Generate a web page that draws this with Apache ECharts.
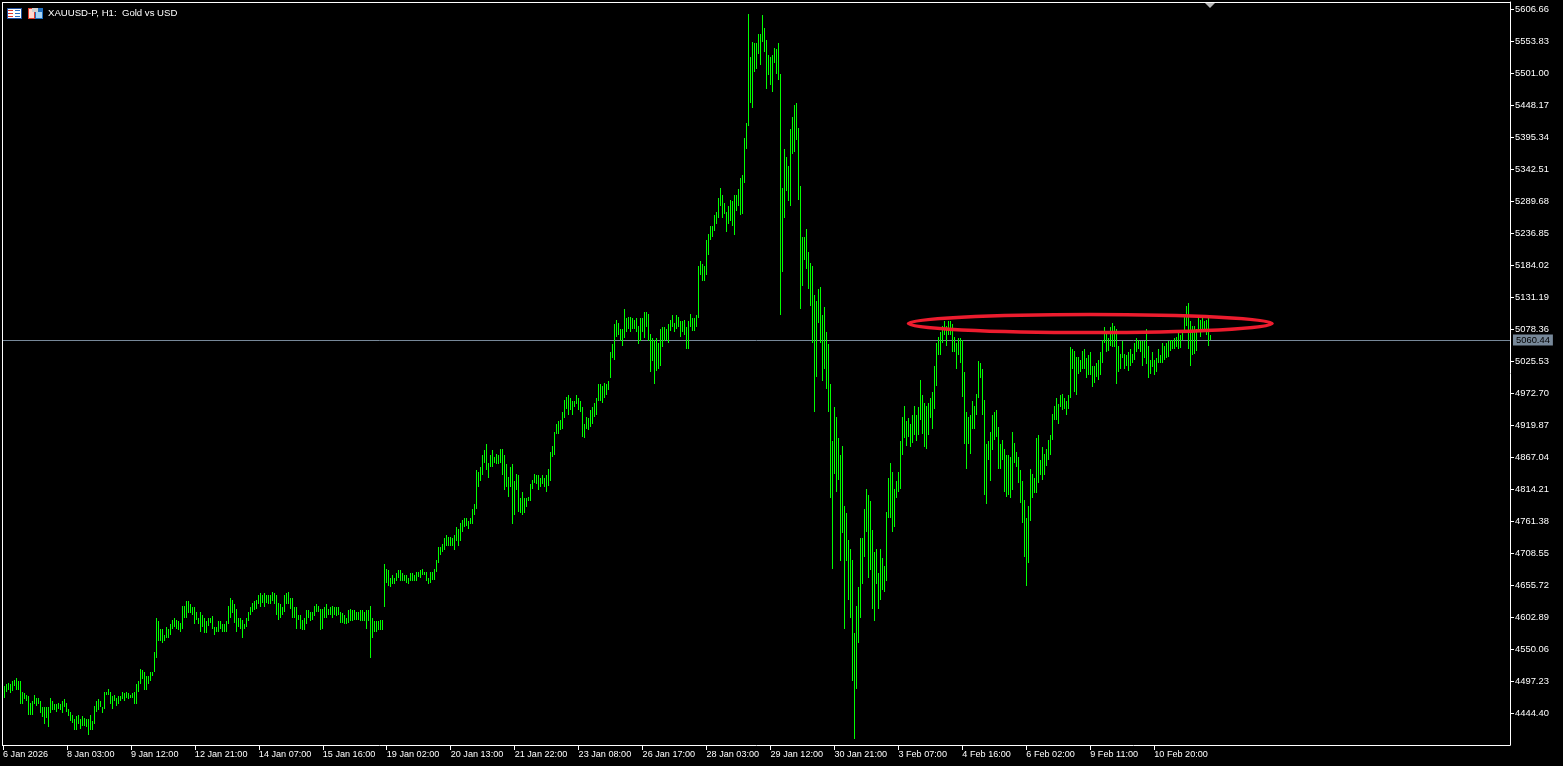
<!DOCTYPE html>
<html><head><meta charset="utf-8">
<style>html,body{margin:0;padding:0;background:#000;overflow:hidden}#c{width:1563px;height:766px}</style>
<script src="https://cdn.jsdelivr.net/npm/echarts@6/dist/echarts.min.js"></script>
</head><body><div id="c"></div>
<script>
const titleText = 'XAUUSD-P, H1:  Gold vs USD';
const tickLabels = ['6 Jan 2026','8 Jan 03:00','9 Jan 12:00','12 Jan 21:00','14 Jan 07:00','15 Jan 16:00','19 Jan 02:00','20 Jan 13:00','21 Jan 22:00','23 Jan 08:00','26 Jan 17:00','28 Jan 03:00','29 Jan 12:00','30 Jan 21:00','3 Feb 07:00','4 Feb 16:00','6 Feb 02:00','9 Feb 11:00','10 Feb 20:00'];
const priceTicks = [5606.66,5553.83,5501.00,5448.17,5395.34,5342.51,5289.68,5236.85,5184.02,5131.19,5078.36,5025.53,4972.70,4919.87,4867.04,4814.21,4761.38,4708.55,4655.72,4602.89,4550.06,4497.23,4444.40];
const lastPrice = 5060.44;
const ellipseBars = [453.25,635];
const ellipsePrices = [5102.4,5072.7];
const highs = [
4490,4493,4494,4492,4498,4499,4502,4497,4497,4480,4478,4475,4472,4462,4465,4475,4470,4469,4465,4454,
4454,4454,4454,4470,4465,4460,4459,4462,4459,4465,4467,4462,4451,4447,4442,4434,4439,4441,4434,4439,
4436,4434,4434,4441,4432,4457,4465,4467,4465,4454,4479,4480,4485,4479,4472,4475,4470,4472,4472,4479,
4477,4479,4477,4475,4477,4480,4493,4497,4518,4515,4513,4505,4505,4512,4512,4546,4602,4596,4583,4583,
4573,4586,4584,4591,4599,4601,4599,4596,4594,4622,4622,4629,4630,4624,4619,4620,4612,4602,4611,4607,
4601,4597,4601,4602,4604,4587,4587,4597,4597,4591,4592,4596,4622,4635,4632,4624,4617,4602,4601,4599,
4592,4601,4612,4619,4627,4630,4632,4640,4642,4640,4642,4640,4639,4640,4644,4642,4640,4627,4625,4620,
4639,4642,4644,4634,4634,4619,4619,4606,4606,4599,4602,4614,4614,4612,4612,4622,4624,4622,4617,4617,
4619,4625,4617,4619,4622,4620,4619,4620,4611,4609,4607,4601,4615,4617,4614,4614,4612,4612,4614,4615,
4611,4614,4615,4622,4601,4596,4597,4597,4599,4599,
4691,4683,4680,4667,4672,4667,4675,4680,4680,4675,4673,4672,4668,4675,4675,4672,4677,4677,4680,4682,
4678,4678,4668,4677,4677,4683,4698,4718,4718,4724,4733,4739,4736,4736,4734,4739,4752,4749,4759,4764,
4767,4767,4762,4766,4782,4789,4845,4843,4851,4871,4879,4889,4858,4871,4878,4868,4873,4871,4881,4881,
4870,4856,4835,4851,4855,4828,4840,4837,4800,4810,4799,4799,4802,4823,4830,4840,4837,4838,4833,4837,
4833,4837,4848,4875,4886,4908,4921,4926,4929,4942,4962,4967,4969,4964,4960,4959,4969,4964,4960,4949,
4922,4934,4931,4944,4949,4957,4964,4988,4988,4985,4990,4987,4992,5041,5053,5086,5094,5089,5079,5078,
5112,5097,5099,5099,5096,5094,5097,5084,5097,5097,5106,5106,5104,5071,5063,5061,5063,5055,5078,5081,
5081,5079,5086,5094,5102,5089,5101,5099,5092,5091,5094,5082,5092,5104,5096,5096,5101,
5183,5191,5185,5182,5226,5236,5248,5249,5267,5272,5294,5312,5299,5287,5272,5281,5291,5289,5299,5300,
5309,5327,5333,5393,5419,5599,5528,5553,5551,5550,5565,5565,5596,5576,5556,5530,5527,5530,5543,5541,
5550,5499,5312,5376,5363,5347,5408,5428,5449,5452,5411,5314,5231,5231,5243,5206,5187,
5182,5134,5124,5145,5147,5101,5114,5074,5053,4987,4894,4949,4934,4898,4870,4886,4786,4774,4731,4715,
4698,4576,4621,4652,4733,4734,4781,4814,4805,4795,4746,4710,4715,4675,4715,4701,4688,4777,4832,4857,
4843,4815,4827,4843,4894,4934,4951,4927,4931,4921,4937,4952,4937,4949,4995,4970,4956,4951,4957,4965,
4974,5017,5055,5066,5074,5083,5091,5084,5092,5092,5087,5066,5055,5064,
5064,5060,5008,4941,4933,4936,4959,4952,4972,5025,5022,5013,4962,4889,4893,4908,4936,4942,4944,4916,
4888,4896,4880,4870,4871,4867,4908,4891,4876,4867,4845,4827,4796,4766,4786,4848,4840,4833,4899,4904,
4863,4883,4873,4881,4896,4904,4939,4951,4965,4954,4970,4972,4964,4960,4970,5048,5046,5043,5033,5033,
5027,5043,5046,5031,5036,5041,5017,5018,5023,5027,5041,5060,5081,5076,5064,5081,5088,5084,5078,5050,
5038,5058,5038,5035,5041,5046,5038,5056,5064,5061,5058,5058,5059,5079,5050,5028,5041,5028,5031,5046,
5035,5056,5051,5055,5059,5061,5061,5064,5066,5073,5069,5073,5102,5117,5121,5091,5084,5083,5079,5099,
5094,5096,5091,5094,5097,5068
];
const lows = [
4470,4480,4483,4477,4481,4490,4483,4482,4460,4459,4467,4464,4442,4441,4441,4459,4457,4459,4445,4438,
4427,4436,4422,4444,4449,4449,4446,4451,4449,4444,4455,4446,4439,4432,4429,4416,4416,4427,4419,4424,
4424,4422,4408,4417,4416,4427,4446,4449,4454,4444,4451,4474,4475,4460,4452,4464,4457,4460,4464,4467,
4465,4469,4467,4469,4469,4460,4459,4479,4492,4500,4482,4482,4492,4497,4505,4512,4536,4563,4564,4561,
4563,4568,4569,4574,4583,4586,4584,4581,4578,4584,4601,4601,4609,4609,4607,4591,4599,4591,4578,4586,
4576,4576,4589,4594,4583,4573,4578,4579,4583,4578,4579,4579,4592,4602,4609,4594,4579,4586,4583,4569,
4583,4587,4596,4606,4612,4614,4617,4625,4620,4627,4619,4627,4625,4625,4629,4625,4606,4599,4602,4606,
4612,4624,4625,4617,4601,4602,4583,4599,4584,4581,4581,4592,4601,4597,4599,4604,4612,4611,4581,4583,
4601,4602,4607,4607,4601,4606,4604,4606,4594,4594,4591,4592,4594,4596,4596,4599,4599,4599,4597,4597,
4596,4583,4597,4536,4568,4578,4579,4581,4581,4581,
4619,4660,4655,4652,4658,4658,4663,4667,4662,4662,4662,4660,4658,4662,4663,4662,4663,4669,4668,4673,
4672,4663,4658,4660,4665,4665,4678,4693,4705,4711,4714,4721,4721,4721,4721,4714,4728,4721,4728,4743,
4752,4754,4748,4756,4757,4771,4782,4817,4827,4837,4858,4845,4832,4851,4851,4858,4855,4855,4858,4838,
4812,4818,4802,4818,4756,4772,4812,4777,4775,4772,4774,4784,4794,4794,4815,4825,4822,4813,4818,4823,
4818,4810,4820,4827,4868,4870,4906,4906,4911,4914,4931,4947,4936,4945,4937,4949,4954,4945,4942,4901,
4899,4914,4911,4917,4922,4934,4937,4960,4959,4957,4965,4970,4977,4998,5030,5028,5066,5069,5058,5051,
5064,5073,5079,5074,5078,5078,5074,5054,5058,5073,5064,5081,5058,5008,5025,4988,5010,5013,5018,5049,
5059,5061,5056,5076,5081,5073,5078,5082,5066,5073,5069,5046,5046,5082,5076,5076,5081,
5097,5168,5158,5157,5168,5201,5225,5231,5241,5251,5262,5281,5262,5269,5238,5251,5256,5248,5234,5274,
5282,5267,5269,5320,5376,5414,5452,5444,5503,5507,5533,5515,5553,5536,5474,5497,5482,5470,5518,5500,
5490,5101,5172,5262,5307,5289,5282,5368,5371,5390,5291,5112,5150,5193,5178,5145,5117,
5056,4941,5000,5089,5055,4992,5013,4980,4942,4800,4682,4840,4809,4830,4695,4741,4584,4696,4631,4602,
4497,4401,4484,4560,4602,4657,4703,4743,4668,4680,4617,4596,4657,4617,4631,4647,4644,4663,4766,4766,
4744,4751,4800,4809,4815,4871,4898,4885,4901,4883,4891,4903,4893,4903,4929,4906,4883,4880,4903,4932,
4913,4946,4984,5035,5035,5055,5068,5051,5068,5068,5041,5041,5013,5035,
5023,4967,4888,4848,4888,4873,4914,4914,4937,4964,4997,4936,4804,4789,4863,4827,4878,4896,4901,4848,
4847,4863,4810,4802,4805,4800,4812,4858,4850,4824,4792,4759,4703,4655,4693,4761,4800,4807,4807,4825,
4838,4829,4838,4852,4863,4871,4895,4928,4928,4921,4949,4944,4947,4936,4946,4964,5012,4975,4969,5005,
5007,5013,5013,4997,5002,5002,4982,4989,5000,4995,5002,5023,5056,5040,5043,5050,5048,5048,4987,5008,
5012,5031,5013,5017,5010,5018,5023,5028,5040,5045,5041,5018,5031,5020,4998,5005,5015,5003,5008,5022,
5023,5023,5028,5030,5033,5043,5045,5046,5048,5045,5047,5061,5076,5083,5046,5018,5036,5038,5043,5076,
5066,5076,5076,5069,5051,5061
];
const barsPerTick = 32;
const slots = 755;
const categories = Array.from({length:slots},(_,i)=> (i%barsPerTick===0 && tickLabels[i/barsPerTick]) || '');
const barData = highs.map((h,i)=>[i+1,h,lows[i]]);
const FONT='"Liberation Sans"';
const isTick=(i)=>i%barsPerTick===0 && !!tickLabels[i/barsPerTick];
const chart=echarts.init(document.getElementById('c'),null,{renderer:'canvas'});
const rects=(arr)=>arr.map(r=>({type:'rect',silent:true,z:100,shape:{x:r[0],y:r[1],width:r[2],height:r[3]},style:{fill:r[4]}}));
chart.setOption({
 animation:false,backgroundColor:'#000',
 title:{text:titleText,left:48,top:8,padding:0,textStyle:{color:'#fff',fontFamily:FONT,fontSize:9.6,fontWeight:'normal',lineHeight:11}},
 grid:{left:2,top:2,width:1508,height:743,show:false,containLabel:false},
 xAxis:{type:'category',data:categories,boundaryGap:false,position:'bottom',
  axisLine:{lineStyle:{color:'#fff',width:1}},
  axisTick:{interval:isTick,length:5,lineStyle:{color:'#fff'}},
  axisLabel:{interval:isTick,color:'#fff',fontFamily:FONT,fontSize:9.1,align:'left',margin:5,showMinLabel:true,showMaxLabel:true},
  splitLine:{show:false}},
 yAxis:{type:'value',position:'right',min:4391.89,max:5618.21,scale:true,
  axisLine:{show:true,lineStyle:{color:'#fff',width:1}},
  axisTick:{show:true,length:4,customValues:priceTicks,lineStyle:{color:'#fff'}},
  axisLabel:{color:'#fff',fontFamily:FONT,fontSize:9.4,margin:5,padding:[2,0,0,0],customValues:priceTicks,showMinLabel:true,showMaxLabel:true,formatter:(v)=>v.toFixed(2)},
  splitLine:{show:false}},
 series:[
  {type:'custom',name:'bars',silent:true,clip:false,data:barData,encode:{x:0,y:[1,2]},
   renderItem:(p,api)=>{
     const a=api.coord([api.value(0),api.value(1)]),b=api.coord([api.value(0),api.value(2)]);
     const x=Math.floor(a[0])+0.5;
     return {type:'line',shape:{x1:x,y1:Math.round(a[1]),x2:x,y2:Math.round(b[1])},style:{stroke:'#00ff00',lineWidth:1}};
   },
   markLine:{silent:true,symbol:'none',animation:false,z:1,
     lineStyle:{color:'#778899',width:1,type:'solid'},
     label:{show:true,position:'end',distance:3,formatter:()=>lastPrice.toFixed(2),color:'#000',backgroundColor:'#778899',fontFamily:FONT,fontSize:9.4,padding:[1,3,1,3]},
     data:[{yAxis:lastPrice}]}},
  {type:'custom',name:'ellipse',silent:true,clip:false,z:10,data:[[ellipseBars[0],ellipseBars[1],ellipsePrices[0],ellipsePrices[1]]],encode:{x:[0,1],y:[2,3]},
   renderItem:(p,api)=>{
     const a=api.coord([api.value(0),api.value(2)]),b=api.coord([api.value(1),api.value(3)]);
     return {type:'ellipse',shape:{cx:(a[0]+b[0])/2,cy:(a[1]+b[1])/2,rx:Math.abs(b[0]-a[0])/2,ry:Math.abs(b[1]-a[1])/2},style:{fill:'none',stroke:'#ed1c2e',lineWidth:3.5}};
   }}
 ],
 graphic:{elements:[
  ...rects([
   [2,2,1509,1,'#ffffff'],[2,2,1,744,'#ffffff'],
   [7,8,15,11,'#1f4fa0'],[8,9,6,9,'#ffffff'],[14,9,7,9,'#ffffff'],
   [8,10,5,1,'#e0392b'],[8,13,5,1,'#e0392b'],[8,16,5,1,'#e0392b'],
   [15,10,5,1,'#2a6fc0'],[15,13,5,1,'#2a6fc0'],[15,16,5,1,'#2a6fc0'],
   [28,8,7,11,'#e0392b'],[35,8,8,11,'#1f6fc0'],[29,9,5,9,'#ffd9d0'],[36,12,6,6,'#a8d4f5'],[32,8,6,4,'#d0d0d0']
  ]),
  {type:'polygon',silent:true,z:100,shape:{points:[[1205,3],[1215,3],[1210,8]]},style:{fill:'#b8b8b8'}}
 ]}
});
</script></body></html>
